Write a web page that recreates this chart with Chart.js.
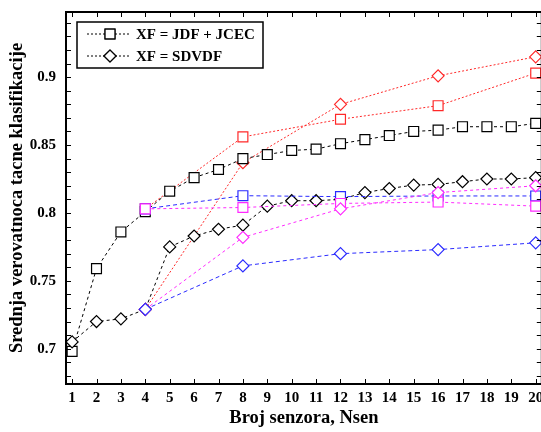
<!DOCTYPE html>
<html><head><meta charset="utf-8">
<script src="https://cdn.jsdelivr.net/npm/chart.js@4/dist/chart.umd.min.js"></script>
<style>html,body{margin:0;padding:0;background:#fff;overflow:hidden;width:541px;height:432px}canvas{display:block}</style>
</head><body>
<canvas id="c" width="550" height="432"></canvas>
<script>
const sensors = [1,2,3,4,5,6,7,8,9,10,11,12,13,14,15,16,17,18,19,20];
const sparse = [4,8,12,16,20];
const jdfJcec = [0.698,0.759,0.786,0.801,0.816,0.826,0.832,0.840,0.843,0.846,0.847,0.851,0.854,0.857,0.860,0.861,0.8635,0.8635,0.8635,0.866];
const sdvdf = [0.705,0.720,0.722,0.729,0.775,0.783,0.788,0.791,0.805,0.809,0.809,0.810,0.815,0.818,0.8205,0.821,0.823,0.825,0.825,0.826];
const redSquares = [0.803,0.856,0.869,0.879,0.903];
const redDiamonds = [0.729,0.837,0.880,0.901,0.915];
const blueSquares = [0.803,0.8127,0.812,0.8125,0.8125];
const blueDiamonds = [0.729,0.761,0.770,0.773,0.778];
const magentaSquares = [0.803,0.804,0.807,0.808,0.805];
const magentaDiamonds = [0.729,0.782,0.803,0.815,0.820];
const yTickLabels = [0.7,0.75,0.8,0.85,0.9];
const legendLabels = ['XF = JDF + JCEC','XF = SDVDF'];

const FONT = '"Liberation Serif", "Times New Roman", serif';
function pts(xs, ys){ return xs.map((x,i)=>({x:x,y:ys[i]})); }
function ds(data, color, style, dash){
  return {data:data, borderColor:color, backgroundColor:'#fff', borderWidth:1, borderDash:dash,
    pointStyle:style, pointRadius: style==='rect'?7:6, pointBorderColor:color, pointBackgroundColor:'#fff',
    pointBorderWidth:1.2, showLine:true, fill:false, tension:0};
}
const datasets = [
  ds(pts(sparse, blueDiamonds), '#2a2aff', 'rectRot', [4,3]),
  ds(pts(sparse, magentaDiamonds), '#ff2aff', 'rectRot', [3,3]),
  ds(pts(sparse, magentaSquares), '#ff2aff', 'rect', [3,3]),
  ds(pts(sparse, blueSquares), '#2a2aff', 'rect', [4,3]),
  ds(pts(sensors, sdvdf), '#000', 'rectRot', [3,3]),
  ds(pts(sensors, jdfJcec), '#000', 'rect', [3,3]),
  ds(pts(sparse, redDiamonds), '#ff2828', 'rectRot', [2,2]),
  ds(pts(sparse, redSquares), '#ff2828', 'rect', [2,2]),
];

const framePlugin = {
  id:'frame',
  afterDraw(chart){
    const ctx = chart.ctx, a = chart.chartArea, xs = chart.scales.x, ys = chart.scales.y;
    ctx.save();
    ctx.strokeStyle = '#000';
    ctx.lineWidth = 1;
    ctx.setLineDash([]);
    ctx.beginPath();
    for (const v of sensors){
      const px = Math.round(xs.getPixelForValue(v))+0.5;
      ctx.moveTo(px, a.bottom); ctx.lineTo(px, a.bottom-5);
      ctx.moveTo(px, a.top); ctx.lineTo(px, a.top+5);
    }
    for (let k=68;k<=94;k++){
      const v = k/100;
      const py = Math.round(ys.getPixelForValue(v))+0.5;
      if (py < a.top || py > a.bottom) continue;
      ctx.moveTo(a.left, py); ctx.lineTo(a.left+5, py);
      ctx.moveTo(a.right, py); ctx.lineTo(a.right-5, py);
    }
    ctx.stroke();
    ctx.lineWidth = 2;
    ctx.strokeRect(a.left, a.top, a.right-a.left, a.bottom-a.top);
    // legend
    const lx=77, ly=22, lw=186, lh=46;
    ctx.fillStyle='#fff';
    ctx.fillRect(lx,ly,lw,lh);
    ctx.lineWidth=1.5;
    ctx.strokeRect(lx,ly,lw,lh);
    const rows=[{y:34,style:'rect',r:7},{y:56,style:'rectRot',r:6}];
    rows.forEach((row,i)=>{
      ctx.lineWidth=1; ctx.strokeStyle='#000'; ctx.setLineDash([2,2]);
      ctx.beginPath(); ctx.moveTo(87,row.y); ctx.lineTo(131,row.y); ctx.stroke();
      ctx.setLineDash([]);
      ctx.fillStyle='#fff'; ctx.lineWidth=1.2;
      Chart.helpers.drawPoint(ctx,{pointStyle:row.style,radius:row.r,borderWidth:1.2},110,row.y);
      ctx.fill(); ctx.stroke();
      ctx.fillStyle='#000';
      ctx.font='bold 15px '+FONT;
      ctx.textBaseline='middle';
      ctx.textAlign='left';
      ctx.fillText(legendLabels[i],136,row.y+1);
    });
    ctx.restore();
  }
};

new Chart(document.getElementById('c'),{
  type:'scatter',
  data:{datasets:datasets},
  options:{
    responsive:false, animation:false, devicePixelRatio:1,
    layout:{padding:{top:12,right:1,left:0,bottom:0}},
    plugins:{legend:{display:false},tooltip:{enabled:false}},
    scales:{
      x:{type:'linear',min:0.75,max:20.25,
        afterBuildTicks:s=>{s.ticks=sensors.map(v=>({value:v}));},
        afterFit:s=>{s.height=48;s.paddingLeft=0;s.paddingRight=0;},
        grid:{display:false,drawTicks:false},border:{display:false},
        ticks:{color:'#000',font:{family:FONT,size:15,weight:'bold'},padding:5,maxRotation:0,autoSkip:false},
        title:{display:true,text:'Broj senzora, Nsen',color:'#000',font:{family:FONT,size:18.5,weight:'bold'},padding:{top:0,bottom:3}}
      },
      y:{type:'linear',min:0.674,max:0.948,
        afterBuildTicks:s=>{s.ticks=yTickLabels.map(v=>({value:v}));},
        afterFit:s=>{s.width=66;s.paddingTop=0;s.paddingBottom=0;},
        grid:{display:false,drawTicks:false},border:{display:false},
        ticks:{color:'#000',font:{family:FONT,size:15,weight:'bold'},padding:10,callback:v=>String(v)},
        title:{display:true,text:'Srednja verovatnoca tacne klasifikacije',color:'#000',font:{family:FONT,size:18.5,weight:'bold'},padding:{top:6,bottom:0}}
      }
    }
  },
  plugins:[framePlugin]
});
</script>
</body></html>
